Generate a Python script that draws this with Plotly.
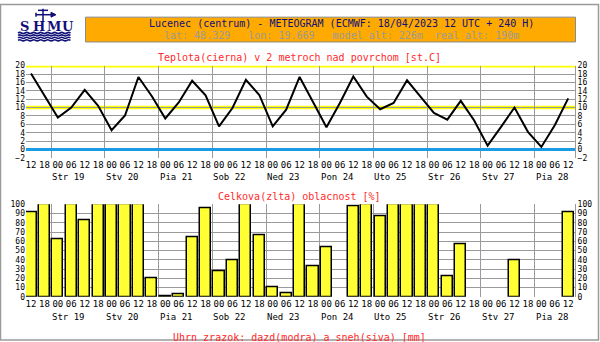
import plotly.graph_objects as go

# ---------------- data ----------------
hour_labels = ["12", "18",
               "00", "06", "12", "18", "00", "06", "12", "18",
               "00", "06", "12", "18", "00", "06", "12", "18",
               "00", "06", "12", "18", "00", "06", "12", "18",
               "00", "06", "12", "18", "00", "06", "12", "18",
               "00", "06", "12", "18", "00", "06", "12"]
day_labels = ["Str 19", "Stv 20", "Pia 21", "Sob 22", "Ned 23",
              "Pon 24", "Uto 25", "Str 26", "Stv 27", "Pia 28"]
temperature = [18.1, 12.8, 7.6, 10.0, 14.2, 10.4, 4.6, 8.1, 17.3, 12.7,
               7.4, 11.2, 16.4, 12.9, 5.5, 9.9, 16.6, 13.0, 5.5, 9.5,
               17.3, 11.3, 5.3, 11.1, 17.4, 12.6, 9.6, 11.1, 16.5, 12.6,
               8.7, 7.1, 11.6, 6.9, 0.9, 5.4, 10.0, 4.2, 0.6, 5.8, 12.2]
cloud = [91, 100, 62, 100, 83, 100, 100, 100, 100, 20,
         1, 3, 64, 96, 28, 40, 100, 67, 10, 4,
         100, 33, 53, 0, 98, 100, 87, 100, 100, 100,
         100, 22, 57, 0, 0, 0, 40, 0, 0, 0, 91]
temp_ticks = [-2, 0, 2, 4, 6, 8, 10, 12, 14, 16, 18, 20]
cloud_ticks = [0, 10, 20, 30, 40, 50, 60, 70, 80, 90, 100]

title1 = "Lucenec (centrum) - METEOGRAM (ECMWF: 18/04/2023 12 UTC + 240 H)"
title2 = "lat: 48.329   lon: 19.669   model_alt: 226m  real_alt: 190m"
sub_temp = "Teplota(cierna) v 2 metroch nad povrchom [st.C]"
sub_cloud = "Celkova(zlta) oblacnost [%]"
sub_rain = "Uhrn zrazok: dazd(modra) a sneh(siva) [mm]"

# ---------------- geometry helpers ----------------
W, H = 600, 342


def px(x):
    return x / W


def py(y):
    return 1 - y / H


steps = list(range(len(temperature)))
X_LEFT, X_RIGHT = 26, 575
X0, STEP = 31.0, 13.43
xrange_ = [(X_LEFT - X0) / STEP, (X_RIGHT - X0) / STEP]
day_grid = [1.5 + 4 * k for k in range(len(day_labels))]

MONO = "DejaVu Sans Mono"
GRID = "#9a9a9a"
RED = "#ff2a2a"
NAVY = "#101078"
xtickfont = dict(family=MONO, size=9, color="black")
ytickfont = dict(family=MONO, size=8, color="black")

fig = go.Figure()

# temperature line
fig.add_trace(go.Scatter(x=steps, y=temperature, mode="lines",
                         line=dict(color="black", width=2),
                         xaxis="x", yaxis="y", showlegend=False,
                         hoverinfo="skip"))
fig.add_trace(go.Scatter(x=[steps[0]], y=[temperature[0]], mode="markers",
                         marker=dict(opacity=0), xaxis="x", yaxis="y2",
                         showlegend=False, hoverinfo="skip"))
# cloud bars (zero cover -> no bar drawn)
cloud_drawn = [v if v > 0 else None for v in cloud]
fig.add_trace(go.Bar(x=steps, y=cloud_drawn, width=0.83,
                     marker=dict(color="#ffff33",
                                 line=dict(color="black", width=1.5)),
                     xaxis="x2", yaxis="y3", showlegend=False,
                     hoverinfo="skip"))
fig.add_trace(go.Scatter(x=[steps[0]], y=[cloud[0]], mode="markers",
                         marker=dict(opacity=0), xaxis="x2", yaxis="y4",
                         showlegend=False, hoverinfo="skip"))

xcommon = dict(domain=[px(X_LEFT), px(X_RIGHT)], range=xrange_,
               tickmode="array", tickvals=steps, ticktext=hour_labels,
               tickfont=xtickfont, tickangle=0, showgrid=False,
               zeroline=False, showline=False, ticks="",
               minor=dict(tickvals=day_grid, showgrid=True,
                          gridcolor=GRID, gridwidth=1, ticks=""),
               fixedrange=True)

T_DOM = [py(158.0), py(63.3)]
C_DOM = [py(300.7), py(205.7)]

fig.update_layout(
    width=W, height=H,
    margin=dict(l=0, r=0, t=0, b=0),
    paper_bgcolor="white", plot_bgcolor="white",
    bargap=0,
    xaxis=dict(anchor="y", **xcommon),
    xaxis2=dict(anchor="y3", **xcommon),
    yaxis=dict(domain=T_DOM, range=[-2, 20], tickmode="array",
               tickvals=temp_ticks, tickfont=ytickfont, showgrid=True,
               gridcolor=GRID, gridwidth=1, zeroline=True,
               zerolinecolor="#1a9be6", zerolinewidth=3, ticks="",
               anchor="x", fixedrange=True),
    yaxis2=dict(domain=T_DOM, range=[-2, 20], overlaying="y", side="right",
                tickmode="array", tickvals=temp_ticks, tickfont=ytickfont,
                showgrid=False, zeroline=False, showline=True,
                linecolor=GRID, linewidth=1, ticks="", anchor="x",
                fixedrange=True),
    yaxis3=dict(domain=C_DOM, range=[0, 100], tickmode="array",
                tickvals=cloud_ticks, tickfont=ytickfont, showgrid=True,
                gridcolor=GRID, gridwidth=1, zeroline=False, ticks="",
                anchor="x2", fixedrange=True),
    yaxis4=dict(domain=C_DOM, range=[0, 100], overlaying="y3", side="right",
                tickmode="array", tickvals=cloud_ticks, tickfont=ytickfont,
                showgrid=False, zeroline=False, showline=True,
                linecolor=GRID, linewidth=1, ticks="", anchor="x2",
                fixedrange=True),
)

shapes = []
# yellow reference lines in temperature plot
for lvl in (10, 20):
    shapes.append(dict(type="line", xref="x domain", yref="y",
                       x0=0, x1=1, y0=lvl, y1=lvl, layer="below",
                       line=dict(color="#ffff00", width=3.5)))

# outer frame
shapes.append(dict(type="rect", xref="paper", yref="paper",
                   x0=px(0.5), x1=px(598.5), y0=py(345), y1=py(0.5),
                   line=dict(color=GRID, width=1.5), fillcolor="rgba(0,0,0,0)"))
# header box
shapes.append(dict(type="rect", xref="paper", yref="paper",
                   x0=px(85.5), x1=px(575.5), y0=py(39), y1=py(13.5),
                   line=dict(color="#8a8a8a", width=1), fillcolor="#ffaa00"))


# logo: waves
def wave_path(y, x_start=18, x_end=73, period=7.0, amp=1.2):
    d = "M %.5f %.5f" % (px(x_start), py(y))
    x = x_start
    up = True
    while x + period / 2 <= x_end + 0.1:
        cx = x + period / 4
        nx = x + period / 2
        cy = y - amp if up else y + amp
        d += " Q %.5f %.5f %.5f %.5f" % (px(cx), py(cy), px(nx), py(y))
        x = nx
        up = not up
    return d


for wy in (29.8, 32.3, 34.8, 37.3):
    shapes.append(dict(type="path", xref="paper", yref="paper",
                       path=wave_path(wy), line=dict(color=NAVY, width=1.6)))
# logo: weather vane
shapes.append(dict(type="line", xref="paper", yref="paper",
                   x0=px(43), x1=px(43), y0=py(18), y1=py(5),
                   line=dict(color=NAVY, width=1.5)))
shapes.append(dict(type="line", xref="paper", yref="paper",
                   x0=px(36), x1=px(52), y0=py(11), y1=py(11),
                   line=dict(color=NAVY, width=1.5)))
shapes.append(dict(type="path", xref="paper", yref="paper",
                   path="M %f %f L %f %f L %f %f Z" % (px(51), py(8.5), px(56), py(11),
                                                       px(51), py(13.5)),
                   fillcolor=NAVY, line=dict(color=NAVY, width=1)))
shapes.append(dict(type="line", xref="paper", yref="paper",
                   x0=px(38), x1=px(48), y0=py(6.5), y1=py(6.5),
                   line=dict(color=NAVY, width=1.5)))
shapes.append(dict(type="line", xref="paper", yref="paper",
                   x0=px(36), x1=px(36), y0=py(13), y1=py(9),
                   line=dict(color=NAVY, width=1.5)))
fig.update_layout(shapes=shapes)

ann = []


def text(x, y, s, color, size=10, family=MONO, xanchor="center", xref="paper"):
    ann.append(dict(x=x, y=y, xref=xref, yref="paper", text=s.replace(" ", "\u00a0"),
                    showarrow=False, xanchor=xanchor, yanchor="middle",
                    font=dict(family=family, size=size, color=color)))


text(px(341), py(20), title1, NAVY)
text(px(342), py(33), title2, "#9a9a9a")
text(px(299), py(55), sub_temp, RED)
text(px(299), py(197.3), sub_cloud, RED)
text(px(299), py(342), sub_rain, RED)

for k, d in enumerate(day_labels):
    ann.append(dict(x=day_grid[k], y=py(178), xref="x", yref="paper",
                    text=d.replace(" ", "\u00a0"), showarrow=False,
                    xanchor="left", yanchor="middle", xshift=-1,
                    font=dict(family=MONO, size=9, color="black")))
    ann.append(dict(x=day_grid[k], y=py(321), xref="x2", yref="paper",
                    text=d.replace(" ", "\u00a0"), showarrow=False,
                    xanchor="left", yanchor="middle", xshift=-1,
                    font=dict(family=MONO, size=9, color="black")))

# logo letters
for ch, cx in zip("SHMU", (24.5, 38.5, 53.5, 67.5)):
    ann.append(dict(x=px(cx), y=py(23), xref="paper", yref="paper", text="<b>" + ch + "</b>",
                    showarrow=False, xanchor="center", yanchor="middle",
                    font=dict(family="DejaVu Serif", size=13, color=NAVY)))

fig.update_layout(annotations=ann)

fig.write_html("out.html")
